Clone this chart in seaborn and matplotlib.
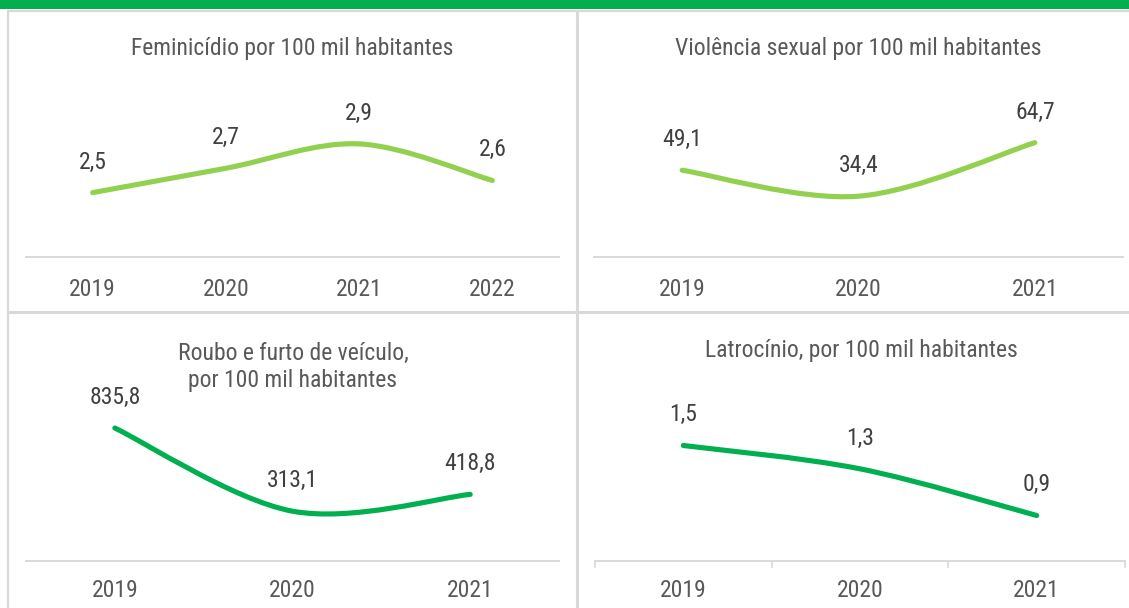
import matplotlib
matplotlib.use("Agg")
import matplotlib.pyplot as plt
from matplotlib.lines import Line2D
from matplotlib.patches import PathPatch, Rectangle
from matplotlib.path import Path
import seaborn as sns

W, H = 1129, 608

# data
feminicidio_anos = ["2019", "2020", "2021", "2022"]
feminicidio = [2.5, 2.7, 2.9, 2.6]

violencia_anos = ["2019", "2020", "2021"]
violencia = [49.1, 34.4, 64.7]

roubo_anos = ["2019", "2020", "2021"]
roubo = [835.8, 313.1, 418.8]

latrocinio_anos = ["2019", "2020", "2021"]
latrocinio = [1.5, 1.3, 0.9]

titulos = [
    "Feminicídio por 100 mil habitantes",
    "Violência sexual por 100 mil habitantes",
    "Roubo e furto de veículo,\npor 100 mil habitantes",
    "Latrocínio, por 100 mil habitantes",
]

VERDE_CLARO = "#92D050"
VERDE = "#00B050"
CINZA = "#D9D9D9"
TEXTO = "#595959"
ROTULO = "#404040"

sns.set_theme(style="white")
plt.rcParams["font.family"] = ["Liberation Sans Narrow", "Arial Narrow",
                               "Roboto Condensed", "Archivo Narrow", "DejaVu Sans"]
FS = 17

fig = plt.figure(figsize=(W / 100, H / 100), dpi=100)


def px_box(left, top, right, bottom):
    return [left / W, 1 - bottom / H, (right - left) / W, (bottom - top) / H]


def fig_line(x0, y0, x1, y1, lw, color=CINZA):
    fig.add_artist(Line2D([x0 / W, x1 / W], [1 - y0 / H, 1 - y1 / H],
                          transform=fig.transFigure, color=color, lw=lw,
                          solid_capstyle="butt"))


def smooth_path(pts):
    # Bezier curve through the points, like a spreadsheet "smoothed line"
    n = len(pts)
    verts = [tuple(pts[0])]
    codes = [Path.MOVETO]
    for i in range(n - 1):
        p0 = pts[max(i - 1, 0)]
        p1 = pts[i]
        p2 = pts[i + 1]
        p3 = pts[min(i + 2, n - 1)]
        c1 = (p1[0] + (p2[0] - p0[0]) / 6, p1[1] + (p2[1] - p0[1]) / 6)
        c2 = (p2[0] - (p3[0] - p1[0]) / 6, p2[1] - (p3[1] - p1[1]) / 6)
        verts += [c1, c2, tuple(p2)]
        codes += [Path.CURVE4] * 3
    return Path(verts, codes)


def painel(box, anos, valores, cor, ylim, pad, marcas=False):
    ax = fig.add_axes(px_box(*box))
    sns.lineplot(x=anos, y=valores, ax=ax, color=cor, sort=False)
    linha = ax.lines[0]
    pts = linha.get_xydata()
    linha.remove()
    ax.add_patch(PathPatch(smooth_path(pts), fill=False, edgecolor=cor,
                           lw=3.7, capstyle="round", joinstyle="round"))
    for (x, y), v in zip(pts, valores):
        ax.annotate(f"{v:.1f}".replace(".", ","), (x, y), xytext=(0, 22),
                    textcoords="offset points", ha="center", va="center",
                    fontsize=FS, color=ROTULO)
    ax.set_xlim(-0.5, len(anos) - 0.5)
    ax.set_ylim(*ylim)
    ax.set_xticks(range(len(anos)), labels=anos)
    ax.set_yticks([])
    ax.set_xlabel("")
    ax.set_ylabel("")
    ax.patch.set_alpha(0)
    for s in ["top", "left", "right"]:
        ax.spines[s].set_visible(False)
    ax.spines["bottom"].set_color(CINZA)
    ax.spines["bottom"].set_linewidth(1.4)
    ax.tick_params(axis="x", length=0, pad=pad, labelsize=FS, labelcolor=TEXTO)
    if marcas:
        ax.set_xticks([i - 0.5 for i in range(len(anos) + 1)], minor=True)
        ax.tick_params(axis="x", which="minor", length=5, width=1.2,
                       color=CINZA, direction="out", bottom=True)
    return ax


# green banner and panel frames
fig.add_artist(Rectangle((0, 1 - 9 / H), 1, 9 / H, transform=fig.transFigure,
                         color=VERDE, lw=0))
fig_line(7, 10.5, W, 10.5, 1.6)
fig_line(8, 10, 8, H, 1.6)
fig_line(576.5, 10, 576.5, H, 2.2)
fig_line(8, 311.5, W, 311.5, 2.2)

painel((26, 90, 559, 257), feminicidio_anos, feminicidio, VERDE_CLARO,
       (1.972, 3.342), 15)
painel((594, 90, 1123, 257), violencia_anos, violencia, VERDE_CLARO,
       (0, 94.5), 15)
painel((26, 400, 559, 561), roubo_anos, roubo, VERDE, (0, 1012), 13)
painel((595, 400, 1125, 561), latrocinio_anos, latrocinio, VERDE,
       (0.51, 1.89), 13, marcas=True)

for (cx, cy), t in zip([(292, 48), (858, 48), (293, 367), (861, 351)], titulos):
    fig.text(cx / W, 1 - cy / H, t, ha="center", va="center", fontsize=FS,
             color=TEXTO, linespacing=1.2)

fig.savefig("out.png", dpi=100)
